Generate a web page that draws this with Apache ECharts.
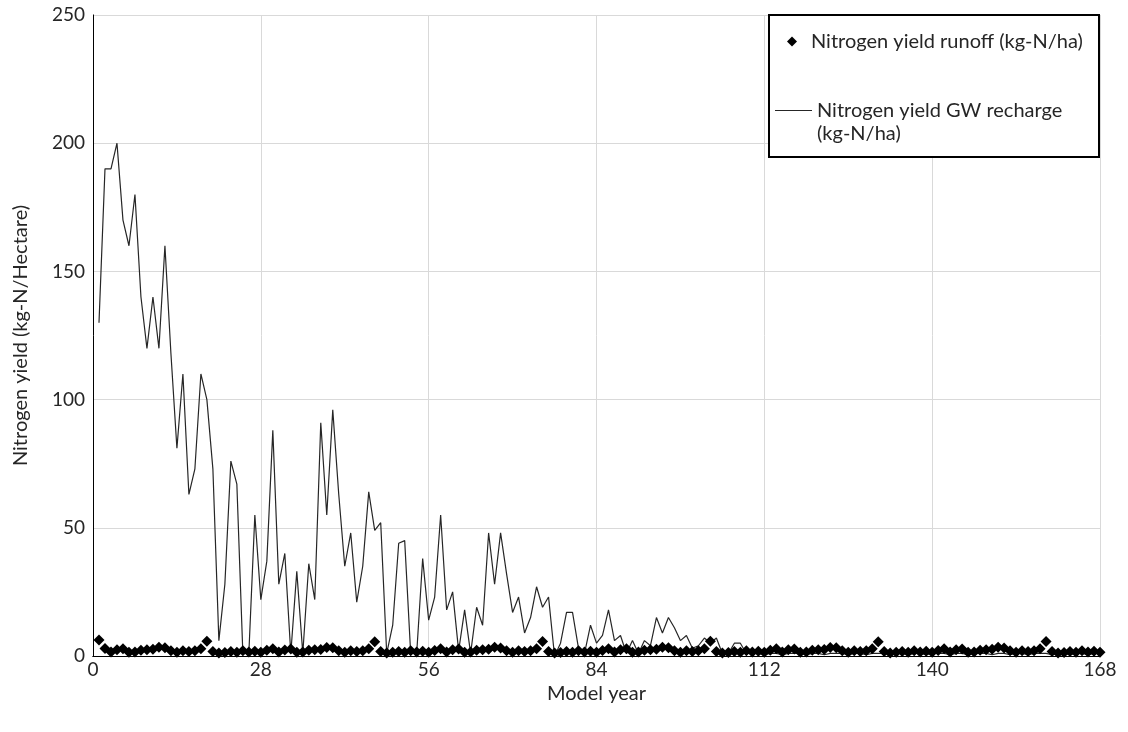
<!DOCTYPE html>
<html><head><meta charset="utf-8">
<script src="https://cdn.jsdelivr.net/npm/echarts@6/dist/echarts.min.js"></script>
<style>html,body{margin:0;padding:0;background:#fff}#c{width:1128px;height:732px}</style>
</head><body><div id="c"></div>
<script>
// Model years 1..168
const years = Array.from({length:168},(_,i)=>i+1);
const xTicks = [0,28,56,84,112,140,168];
const yTicks = [0,50,100,150,200,250];

const gwRecharge = [
130,190,190,200,170,160,180,140,120,140,120,160,118,81,110,63,73,110,100,73,
6,28,76,67,1,1,55,22,37,88,28,40,1,33,1,36,22,91,55,96,
63,35,48,21,35,64,49,52,1,12,44,45,1,1,38,14,23,55,18,25,
2,18,1,19,12,48,28,48,32,17,23,9,15,27,19,23,0,5,17,17,
3,1,12,5,8,18,6,8,1,6,1,6,4,15,9,15,11,6,8,3,
4,7,5,7,1,1,5,5,1,1,1,0.5,1,1,0.5,1,1,1,0.5,1,
1,0.5,1,1,1,0.5,1,1,0.5,1,1,1,0.5,1,1,0.5,1,1,0.5,1,
1,1,0.5,1,1,0.5,1,1,1,0.5,1,1,0.5,1,1,0.5,1,1,1,0.5,
1,1,0.5,1,1,0.5,1,1
];

const runoff = [
6.2,2.9,1.6,2.4,2.8,1.5,1.6,2.2,2.4,2.6,3.4,3.2,2.0,1.5,2.0,1.8,2.0,2.8,5.8,1.8,1.2,1.4,1.8,1.5,2.0,1.6,1.9,1.5,
2.2,2.8,1.6,2.3,2.7,1.5,1.6,2.2,2.4,2.5,3.3,3.2,2.0,1.5,2.0,1.8,2.0,2.8,5.6,1.8,1.2,1.5,1.8,1.5,2.0,1.6,1.9,1.5,
2.1,2.8,1.6,2.4,2.7,1.5,1.6,2.2,2.4,2.6,3.4,3.1,2.0,1.5,2.0,1.8,2.0,2.8,5.7,1.8,1.2,1.4,1.8,1.5,2.0,1.6,1.9,1.5,
2.1,2.8,1.6,2.4,2.8,1.5,1.6,2.2,2.4,2.6,3.4,3.2,2.0,1.5,2.0,1.8,2.0,2.8,5.8,1.8,1.2,1.4,1.8,1.5,2.0,1.6,1.9,1.5,
2.2,2.8,1.6,2.4,2.7,1.5,1.6,2.2,2.4,2.5,3.3,3.2,2.0,1.5,2.0,1.8,2.0,2.8,5.6,1.8,1.2,1.5,1.8,1.5,2.0,1.6,1.9,1.5,
2.1,2.8,1.6,2.4,2.7,1.5,1.6,2.2,2.4,2.6,3.4,3.1,2.0,1.5,2.0,1.8,2.0,2.8,5.7,1.8,1.2,1.4,1.8,1.5,2.0,1.6,1.9,1.5
];

const nameRunoff = 'Nitrogen yield runoff (kg-N/ha)';
const nameGW = 'Nitrogen yield GW recharge (kg-N/ha)';
const FONT = 'Lato';
const TXT = '#262626';

const chart = echarts.init(document.getElementById('c'), null, {renderer:'canvas'});
chart.setOption({
  animation:false,
  backgroundColor:'#fff',
  textStyle:{fontFamily:FONT},
  grid:{left:93,right:28,top:15,bottom:76,containLabel:false},
  graphic:[{type:'rect',left:768,top:14,z:3,
    shape:{width:330,height:142},
    style:{fill:'#fff',stroke:'#000',lineWidth:2}}],
  legend:[{
    data:[{name:nameRunoff,icon:'diamond'}],
    left:787,top:30,padding:0,z:10,
    itemWidth:10,itemHeight:10,
    textStyle:{fontFamily:FONT,fontSize:20,color:TXT,lineHeight:23,padding:[0,0,0,9]},
    selectedMode:false
  },{
    data:[{name:nameGW,icon:'rect'}],
    left:775,top:76,padding:0,z:10,
    itemWidth:37,itemHeight:1,
    formatter:()=>' \nNitrogen yield GW recharge\n(kg-N/ha)',
    textStyle:{fontFamily:FONT,fontSize:20,color:TXT,lineHeight:23},
    selectedMode:false
  }],
  xAxis:[{
    type:'value',min:xTicks[0],max:xTicks[xTicks.length-1],interval:28,
    name:'Model year',nameLocation:'middle',nameGap:22,
    nameTextStyle:{fontFamily:FONT,fontSize:20,color:TXT},
    axisLine:{lineStyle:{color:'#000',width:1}},
    axisTick:{show:false},
    axisLabel:{fontFamily:FONT,fontSize:19,color:TXT,margin:4},
    splitLine:{show:true,lineStyle:{color:'#d9d9d9',width:1}}
  },{
    type:'value',position:'top',min:0,max:168,interval:28,
    axisLine:{show:true,lineStyle:{color:'#000',width:1}},
    axisTick:{show:false},axisLabel:{show:false},splitLine:{show:false}
  }],
  yAxis:[{
    type:'value',min:yTicks[0],max:yTicks[yTicks.length-1],interval:50,
    name:'Nitrogen yield (kg-N/Hectare)',nameLocation:'middle',nameGap:62,
    nameTextStyle:{fontFamily:FONT,fontSize:20,color:TXT},
    axisLine:{show:true,lineStyle:{color:'#a6a6a6',width:1}},
    axisTick:{show:false},
    axisLabel:{fontFamily:FONT,fontSize:19,color:TXT,margin:8},
    splitLine:{show:true,lineStyle:{color:'#d9d9d9',width:1}}
  },{
    type:'value',position:'right',min:0,max:250,interval:50,
    axisLine:{show:true,lineStyle:{color:'#000',width:1}},
    axisTick:{show:false},axisLabel:{show:false},splitLine:{show:false}
  }],
  series:[{
    name:nameRunoff,type:'scatter',symbol:'diamond',symbolSize:11,
    itemStyle:{color:'#000',opacity:1},z:4,
    data:years.map((y,i)=>[y,runoff[i]])
  },{
    name:nameGW,type:'line',showSymbol:false,symbol:'none',
    lineStyle:{color:'#262626',width:1.2},itemStyle:{color:'#262626'},z:2,
    data:years.map((y,i)=>[y,gwRecharge[i]])
  }]
});
</script>
</body></html>
